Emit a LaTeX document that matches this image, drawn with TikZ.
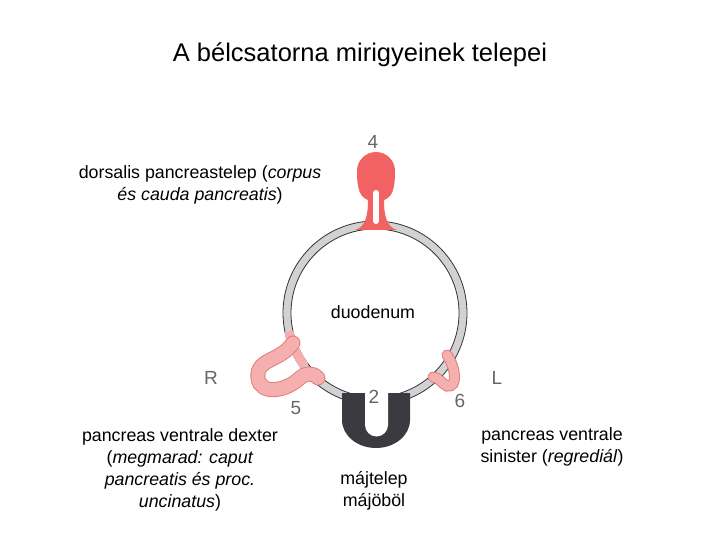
\documentclass[tikz,border=0pt]{standalone}
\usepackage{fontspec}
\setmainfont{Liberation Sans}
\definecolor{budred}{HTML}{F26262}
\definecolor{budpink}{HTML}{F6AFAF}
\definecolor{budpinkedge}{HTML}{E07C7C}
\definecolor{dark}{HTML}{3A3A40}
\begin{document}
\begin{tikzpicture}[x=1pt,y=-1pt,
  lbl/.style={font=\fontsize{17.8}{22}\selectfont, align=center, inner sep=0pt},
  num/.style={font=\fontsize{19}{20}\selectfont, text=gray!80!black, inner sep=0pt}]
\useasboundingbox (0,0) rectangle (720,540);
% ring
\draw[line width=8pt, gray!35] (375,313) circle (88);
\draw[line width=0.8pt, black!80] (375,313) circle (92);
\draw[line width=0.8pt, black!80] (375,313) circle (84);
% pink left ring segment
\draw[line width=9pt, budpink] (375,313) ++(143:88) arc (143:168:88);
% R bud
\draw[line width=15pt, budpinkedge, line cap=round] (293,343) .. controls (280,362) and (256,358) .. (258,378) .. controls (260,395) and (285,392) .. (300,378) .. controls (305,373) and (312,372) .. (318,378);
\draw[line width=13pt, budpink, line cap=round] (293,343) .. controls (280,362) and (256,358) .. (258,378) .. controls (260,395) and (285,392) .. (300,378) .. controls (305,373) and (312,372) .. (318,378);
% L bud
\draw[line width=11pt, budpinkedge, line cap=round] (447,355) .. controls (456,368) and (458,388) .. (447,386) .. controls (442,384) and (440,378) .. (433,377);
\draw[line width=9pt, budpink, line cap=round] (447,355) .. controls (456,368) and (458,388) .. (447,386) .. controls (442,384) and (440,378) .. (433,377);
% dorsal bud
\fill[budred] (355,230) .. controls (366,227) and (368,214) .. (368,200) .. controls (360,197) and (357,190) .. (357,171) arc (180:360:19) .. controls (395,190) and (392,197) .. (384,200) .. controls (384,214) and (386,227) .. (397,230) -- cycle;
\draw[line width=6pt, white, line cap=round] (376,221) -- (376,193);
% dark liver bud
\fill[dark] (342,393) -- (342,420) arc (180:0:34 and 28) -- (410,393) -- cycle;
\fill[white] (365,393) -- (365,425) arc (180:0:11.5) -- (388,393) -- cycle;
% numbers
\node[num] (n4) at (373,142) {4};
\node[num] (n2) at (374,397) {2};
\node[num] (n5) at (296,408) {5};
\node[num] (n6) at (460,401) {6};
\node[num] (nR) at (211,378) {R};
\node[num] (nL) at (497,378) {L};
% texts
\node[font=\fontsize{25.5}{28}\selectfont, inner sep=0pt] (title) at (360,55) {A bélcsatorna mirigyeinek telepei};
\node[lbl] (dors) at (200,185) {dorsalis pancreastelep (\textit{corpus}\\\textit{és cauda pancreatis})};
\node[lbl] (duo) at (373,312) {duodenum};
\node[lbl] (vd) at (180,470) {pancreas ventrale dexter\\(\textit{megmarad: caput}\\\textit{pancreatis és proc.}\\\textit{uncinatus})};
\node[lbl] (vs) at (552,447) {pancreas ventrale\\sinister (\textit{regrediál})};
\node[lbl] (maj) at (374,491) {májtelep\\májöböl};
\end{tikzpicture}
\end{document}
